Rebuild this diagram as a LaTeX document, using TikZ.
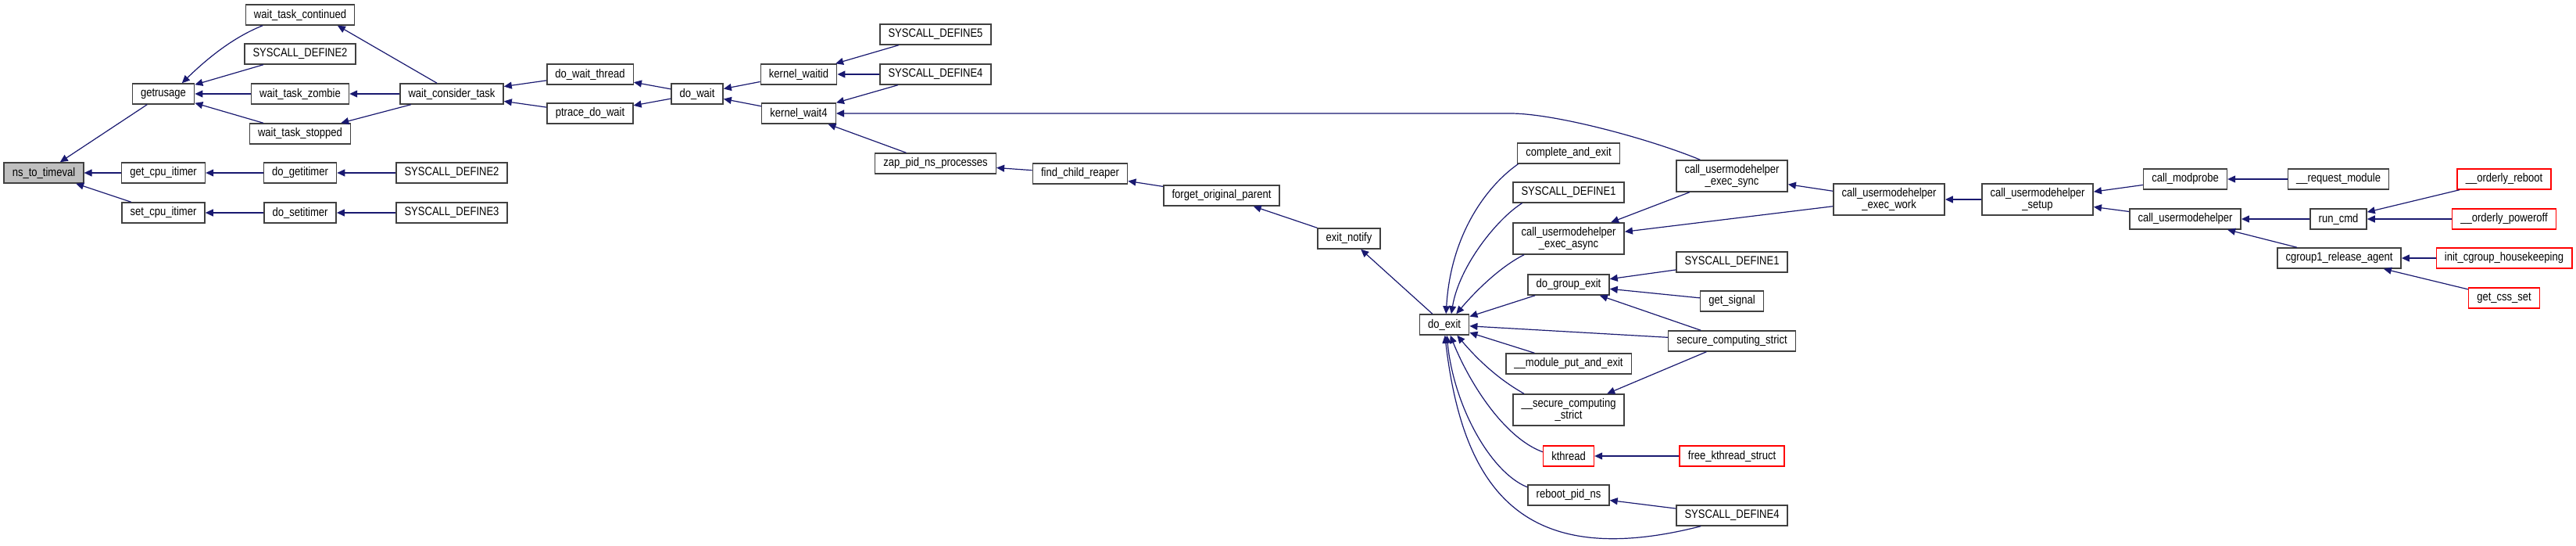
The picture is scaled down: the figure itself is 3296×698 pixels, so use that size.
\documentclass[tikz,border=0pt]{standalone}
\usepackage{fontspec}
\setmainfont{Liberation Sans}[FakeStretch=0.85]
\usepackage{xcolor}
\usepackage{tikz}
\usetikzlibrary{arrows.meta}
\definecolor{edgeblue}{HTML}{191970}
\definecolor{boxgray}{HTML}{BFBFBF}
\definecolor{boxline}{HTML}{404040}

\begin{document}
\begin{tikzpicture}[x=0.75pt, y=0.75pt, >={Triangle[length=7.5pt,width=6.75pt]},
	every node/.style={font=\fontsize{11.5}{11.5}\selectfont},
	fn/.style={draw=boxline, line width=1.1pt, fill=white, inner xsep=8pt, inner ysep=2pt, minimum height=19.5pt, align=center},
	tall/.style={fn, minimum height=30pt},
	hl/.style={fn, fill=boxgray},
	trunc/.style={fn, draw=red},
	call/.style={->, draw=edgeblue, line width=0.9pt}]
		\useasboundingbox (0,0) rectangle (3296,-698);

		\node[hl] (ntt) at (56,-221) {ns\_to\_timeval};
		\node[fn] (getrusage) at (209,-120) {getrusage};
		\node[fn] (getcpu) at (209,-221) {get\_cpu\_itimer};
		\node[fn] (setcpu) at (209,-272) {set\_cpu\_itimer};
		\node[fn] (wtc) at (384,-19) {wait\_task\_continued};
		\node[fn] (sdtwo) at (384,-69) {SYSCALL\_DEFINE2};
		\node[fn] (wtz) at (384,-120) {wait\_task\_zombie};
		\node[fn] (wts) at (384,-171) {wait\_task\_stopped};
		\node[fn] (dogetit) at (384,-221) {do\_getitimer};
		\node[fn] (dosetit) at (384,-272) {do\_setitimer};
		\node[fn] (wct) at (578,-120) {wait\_consider\_task};
		\node[fn] (sdtwob) at (578,-221) {SYSCALL\_DEFINE2};
		\node[fn] (sdthree) at (578,-272) {SYSCALL\_DEFINE3};
		\node[fn] (dwt) at (755,-95) {do\_wait\_thread};
		\node[fn] (pdw) at (755,-145) {ptrace\_do\_wait};
		\node[fn] (dowait) at (892,-120) {do\_wait};
		\node[fn] (kwaitid) at (1022,-95) {kernel\_waitid};
		\node[fn] (kwait4) at (1022,-145) {kernel\_wait4};
		\node[fn] (sdfive) at (1197,-44) {SYSCALL\_DEFINE5};
		\node[fn] (sdfour) at (1197,-95) {SYSCALL\_DEFINE4};
		\node[fn] (zap) at (1197,-209) {zap\_pid\_ns\_processes};
		\node[fn] (fcr) at (1382,-222) {find\_child\_reaper};
		\node[fn] (fop) at (1563,-250) {forget\_original\_parent};
		\node[fn] (exitn) at (1726,-305) {exit\_notify};
		\node[fn] (doexit) at (1848,-415) {do\_exit};
		\node[fn] (cae) at (2007,-196) {complete\_and\_exit};
		\node[fn] (sdone) at (2007,-246) {SYSCALL\_DEFINE1};
		\node[tall] (async) at (2007,-305) {call\_usermodehelper\\\_exec\_async};
		\node[fn] (dge) at (2007,-364) {do\_group\_exit};
		\node[fn] (mpae) at (2007,-465) {\_\_module\_put\_and\_exit};
		\node[tall] (scstwo) at (2007,-524) {\_\_secure\_computing\\\_strict};
		\node[trunc] (kthread) at (2007,-583) {kthread};
		\node[fn] (rpn) at (2007,-633) {reboot\_pid\_ns};
		\node[tall] (sync) at (2216,-225) {call\_usermodehelper\\\_exec\_sync};
		\node[fn] (sdoneb) at (2216,-335) {SYSCALL\_DEFINE1};
		\node[fn] (getsig) at (2216,-385) {get\_signal};
		\node[fn] (scs) at (2216,-436) {secure\_computing\_strict};
		\node[trunc] (fks) at (2216,-583) {free\_kthread\_struct};
		\node[fn] (sdfourb) at (2216,-659) {SYSCALL\_DEFINE4};
		\node[tall] (work) at (2417,-255) {call\_usermodehelper\\\_exec\_work};
		\node[tall] (setup) at (2607,-255) {call\_usermodehelper\\\_setup};
		\node[fn] (modprobe) at (2796,-229) {call\_modprobe};
		\node[fn] (cuh) at (2796,-280) {call\_usermodehelper};
		\node[fn] (reqmod) at (2992,-229) {\_\_request\_module};
		\node[fn] (runcmd) at (2992,-280) {run\_cmd};
		\node[fn] (cgra) at (2993,-330) {cgroup1\_release\_agent};
		\node[trunc] (oreboot) at (3204,-229) {\_\_orderly\_reboot};
		\node[trunc] (opoff) at (3204,-280) {\_\_orderly\_poweroff};
		\node[trunc] (ich) at (3204,-330) {init\_cgroup\_housekeeping};
		\node[trunc] (gcs) at (3204,-381) {get\_css\_set};
		\coordinate (wfour) at (1932,-145);

		\draw[call] (getrusage) -- (ntt);
		\draw[call] (getcpu) -- (ntt);
		\draw[call] (setcpu) -- (ntt);
		\draw[call] (wtc.196) .. controls +(-33,-13) and +(38,37) .. (getrusage.30);
		\draw[call] (sdtwo) -- (getrusage);
		\draw[call] (wtz) -- (getrusage);
		\draw[call] (wts) -- (getrusage);
		\draw[call] (dogetit) -- (getcpu);
		\draw[call] (dosetit) -- (setcpu);
		\draw[call] (wct.144) -- (wtc.-16);
		\draw[call] (wct) -- (wtz);
		\draw[call] (wct) -- (wts);
		\draw[call] (sdtwob) -- (dogetit);
		\draw[call] (sdthree) -- (dosetit);
		\draw[call] (dwt) -- (wct);
		\draw[call] (pdw) -- (wct);
		\draw[call] (dowait) -- (dwt);
		\draw[call] (dowait) -- (pdw);
		\draw[call] (kwaitid) -- (dowait);
		\draw[call] (kwait4) -- (dowait);
		\draw[call] (sdfive) -- (kwaitid);
		\draw[call] (sdfour) -- (kwaitid);
		\draw[call] (sdfour) -- (kwait4);
		\draw[call] (zap) -- (kwait4);
		\draw[call] (sync.153) .. controls +(-60,25) and +(60,0) .. (wfour) -- (kwait4);
		\draw[call] (fcr) -- (zap);
		\draw[call] (fop) -- (fcr);
		\draw[call] (exitn) -- (fop);
		\draw[call] (doexit) -- (exitn);
		\draw[call] (cae.192) .. controls +(-40,-28) and +(6,102) .. (doexit.81);
		\draw[call] (sdone.193) .. controls +(-32,-20) and +(10,61) .. (doexit.57);
		\draw[call] (async.200) .. controls +(-32,-16) and +(23,27) .. (doexit.42);
		\draw[call] (dge) -- (doexit);
		\draw[call] (scs) -- (doexit);
		\draw[call] (mpae) -- (doexit);
		\draw[call] (scstwo.160) .. controls +(-32,18) and +(27,-32) .. (doexit.-40);
		\draw[call] (kthread.171) .. controls +(-49,18) and +(25,-62) .. (doexit.-61);
		\draw[call] (rpn.169) .. controls +(-46,18) and +(9,-92) .. (doexit.-77);
		\draw[call] (sdfourb.199) .. controls +(-228,-58) and +(23,-197) .. (doexit.-87);
		\draw[call] (sync) -- (async);
		\draw[call] (work) -- (sync);
		\draw[call] (work) -- (async);
		\draw[call] (sdoneb) -- (dge);
		\draw[call] (getsig) -- (dge);
		\draw[call] (scs) -- (dge);
		\draw[call] (scs) -- (scstwo);
		\draw[call] (fks) -- (kthread);
		\draw[call] (sdfourb) -- (rpn);
		\draw[call] (setup) -- (work);
		\draw[call] (modprobe) -- (setup);
		\draw[call] (cuh) -- (setup);
		\draw[call] (reqmod) -- (modprobe);
		\draw[call] (runcmd) -- (cuh);
		\draw[call] (cgra) -- (cuh);
		\draw[call] (oreboot) -- (runcmd);
		\draw[call] (opoff) -- (runcmd);
		\draw[call] (ich) -- (cgra);
		\draw[call] (gcs) -- (cgra);
\end{tikzpicture}
\end{document}
